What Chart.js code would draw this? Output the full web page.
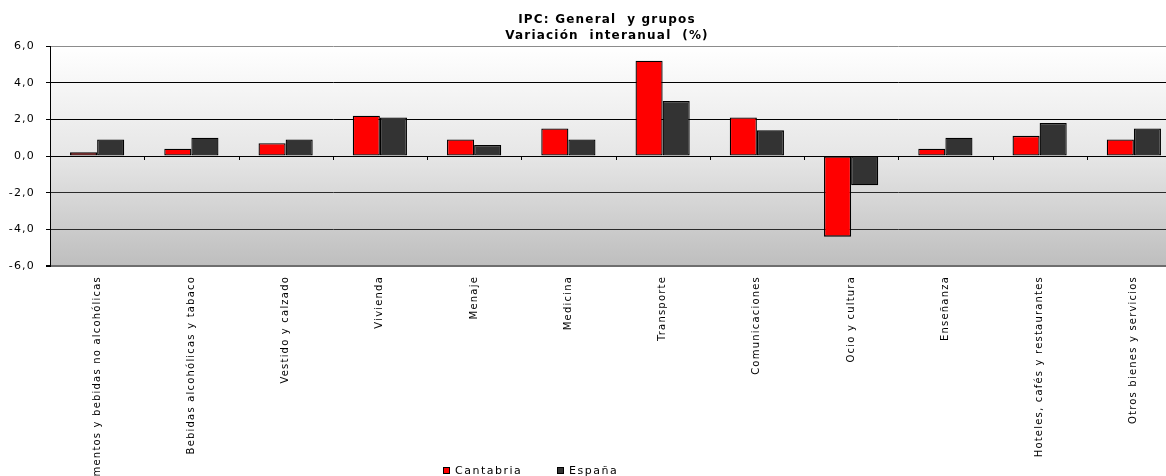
<!DOCTYPE html>
<html>
<head>
<meta charset="utf-8">
<script src="https://cdn.jsdelivr.net/npm/chart.js@4.4.0/dist/chart.umd.min.js"></script>
<style>
    body { margin: 0; overflow: hidden; background: #fff; }
    #chartBox { position: relative; width: 1181px; height: 476px; }
</style>
</head>
<body>
<div id="chartBox"><canvas id="ipcChart"></canvas></div>
<script>
const categories = [
    "Alimentos y bebidas no alcohólicas", "Bebidas alcohólicas y tabaco", "Vestido y calzado",
    "Vivienda", "Menaje", "Medicina", "Transporte", "Comunicaciones", "Ocio y cultura",
    "Enseñanza", "Hoteles, cafés y restaurantes", "Otros bienes y servicios"
];
const cantabria = [0.2, 0.4, 0.7, 2.2, 0.9, 1.5, 5.2, 2.1, -4.4, 0.4, 1.1, 0.9];
const espana = [0.9, 1.0, 0.9, 2.1, 0.6, 0.9, 3.0, 1.4, -1.6, 1.0, 1.8, 1.5];
const seriesNames = ["Cantabria", "España"];
const titleLines = ["IPC: General  y grupos", "Variación  interanual  (%)"];
const yTicks = [-6, -4, -2, 0, 2, 4, 6];

const FONT = "'DejaVu Sans', Verdana, sans-serif";

function formatComma(value) {
    return value.toFixed(1).replace('.', ',');
}

// background gradient, zero-line ticks, title and legend
const excelLook = {
    id: 'excelLook',
    beforeDraw(chart) {
        const { ctx, chartArea: a } = chart;
        ctx.save();
        ctx.fillStyle = '#ffffff';
        ctx.fillRect(0, 0, chart.width, chart.height);
        const grad = ctx.createLinearGradient(0, a.top, 0, a.bottom);
        grad.addColorStop(0, '#ffffff');
        grad.addColorStop(0.5, '#e6e6e6');
        grad.addColorStop(1, '#bebebe');
        ctx.fillStyle = grad;
        ctx.fillRect(a.left, a.top, a.right - a.left, a.bottom - a.top);
        ctx.restore();
        ctx.letterSpacing = '1.2px';
    },
    afterDatasetsDraw(chart) {
        const { ctx } = chart;
        const xs = chart.scales.x;
        const y0 = chart.scales.y.getPixelForValue(0);
        ctx.save();
        ctx.strokeStyle = '#000';
        ctx.lineWidth = 1;
        ctx.beginPath();
        for (let i = 0; i < categories.length - 1; i++) {
            const x = Math.round((xs.getPixelForValue(i) + xs.getPixelForValue(i + 1)) / 2) + 0.5;
            ctx.moveTo(x, y0);
            ctx.lineTo(x, y0 + 4);
        }
        ctx.stroke();
        ctx.restore();
    },
    afterDraw(chart) {
        const { ctx } = chart;
        ctx.save();
        ctx.fillStyle = '#000';
        ctx.textAlign = 'center';
        ctx.textBaseline = 'middle';
        ctx.letterSpacing = '1.2px';
        ctx.font = 'bold 12px ' + FONT;
        titleLines.forEach((line, i) => ctx.fillText(line, 607, 20 + i * 16));

        // legend
        ctx.textAlign = 'left';
        ctx.letterSpacing = '1.5px';
        ctx.font = '11px ' + FONT;
        const legendX = [443, 557];
        chart.data.datasets.forEach((ds, i) => {
            ctx.fillStyle = ds.backgroundColor;
            ctx.fillRect(legendX[i], 467, 7, 7);
            ctx.strokeStyle = '#000';
            ctx.lineWidth = 1;
            ctx.strokeRect(legendX[i] + 0.5, 467.5, 6, 6);
            ctx.fillStyle = '#000';
            ctx.fillText(ds.label, legendX[i] + 12, 471);
        });
        ctx.restore();
    }
};

new Chart(document.getElementById('ipcChart').getContext('2d'), {
    type: 'bar',
    data: {
        labels: categories,
        datasets: [
            {
                label: seriesNames[0],
                data: cantabria,
                backgroundColor: '#ff0000',
                borderColor: '#000000',
                borderWidth: 1.3,
                borderSkipped: false
            },
            {
                label: seriesNames[1],
                data: espana,
                backgroundColor: '#333333',
                borderColor: '#000000',
                borderWidth: 1.3,
                borderSkipped: false
            }
        ]
    },
    options: {
        responsive: true,
        maintainAspectRatio: false,
        animation: false,
        events: [],
        layout: { padding: { top: 46, left: 0, right: 0, bottom: 0 } },
        datasets: {
            bar: { categoryPercentage: 0.575, barPercentage: 1.0 }
        },
        plugins: {
            legend: { display: false },
            title: { display: false },
            tooltip: { enabled: false }
        },
        scales: {
            x: {
                grid: { display: false, drawTicks: false },
                border: { display: false },
                ticks: {
                    autoSkip: false,
                    minRotation: 90,
                    maxRotation: 90,
                    padding: 10,
                    color: '#000',
                    font: { family: FONT, size: 10 }
                },
                afterFit(scale) {
                    scale.height = 210;
                    scale.paddingLeft = 0;
                    scale.paddingRight = 0;
                }
            },
            y: {
                min: -6,
                max: 6,
                afterBuildTicks(scale) {
                    scale.ticks = yTicks.map(v => ({ value: v }));
                },
                ticks: {
                    padding: 11,
                    color: '#000',
                    font: { family: FONT, size: 11 },
                    callback: value => formatComma(value)
                },
                grid: {
                    color: ctx => {
                        const v = ctx.tick.value;
                        if (v === 6) return '#8c8c8c';
                        if (v === -6) return '#6e6e6e';
                        return v < 0 ? '#2a2a2a' : '#000000';
                    },
                    lineWidth: ctx => (ctx.tick.value === -6 ? 2 : 1),
                    drawTicks: true,
                    tickLength: 4,
                    tickColor: '#000'
                },
                border: { display: true, color: '#000', width: 1 },
                afterFit(scale) {
                    scale.width = 50;
                    scale.paddingTop = 0;
                    scale.paddingBottom = 0;
                }
            }
        }
    },
    plugins: [excelLook]
});
</script>
</body>
</html>
